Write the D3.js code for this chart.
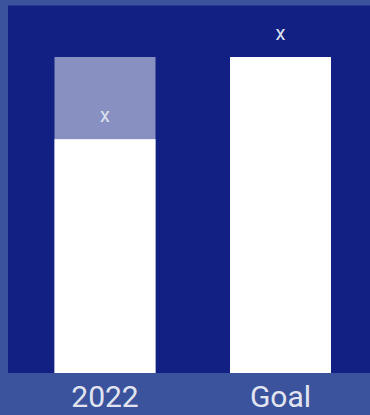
<!DOCTYPE html>
<html>
<head>
<meta charset="utf-8">
<script src="https://cdn.jsdelivr.net/npm/d3@7"></script>
<style>
  html, body { margin: 0; padding: 0; background: #3a539c; }
  svg { display: block; }
</style>
</head>
<body>
<svg id="chart" width="370" height="415"></svg>
<script>
// Categories, values and labels
const categories = ["2022", "Goal"];
const actualValues = [74, 100];   // white bars
const goalValues = [100, 100];    // translucent target portion
const valueLabels = ["x", "x"];

const W = 370, H = 415;
const svg = d3.select("#chart");

// Panel background
svg.append("rect").attr("width", W).attr("height", H).attr("fill", "#3a539c");
svg.append("rect").attr("x", 8).attr("y", 5.5).attr("width", W - 8).attr("height", 373 - 5.5)
  .attr("fill", "#112082");

const x = d3.scaleBand().domain(categories).range([54.5, 331])
  .paddingInner(0.4245).paddingOuter(0);
const y = d3.scaleLinear().domain([0, 100]).range([373, 57]);

// Target (translucent) bars
svg.selectAll("rect.goal").data(categories).join("rect")
  .attr("class", "goal")
  .attr("x", d => x(d))
  .attr("width", x.bandwidth())
  .attr("y", (d, i) => y(goalValues[i]))
  .attr("height", (d, i) => y(0) - y(goalValues[i]))
  .attr("fill", "#ffffff").attr("fill-opacity", 0.5);

// Actual bars
svg.selectAll("rect.actual").data(categories).join("rect")
  .attr("class", "actual")
  .attr("x", d => x(d))
  .attr("width", x.bandwidth())
  .attr("y", (d, i) => y(actualValues[i]))
  .attr("height", (d, i) => y(0) - y(actualValues[i]))
  .attr("fill", "#ffffff");

// Value labels above actual bars
svg.selectAll("text.val").data(categories).join("text")
  .attr("class", "val")
  .attr("x", d => x(d) + x.bandwidth() / 2)
  .attr("y", (d, i) => y(actualValues[i]) - 17)
  .attr("text-anchor", "middle")
  .attr("font-family", "Roboto, sans-serif")
  .attr("font-size", 20)
  .attr("fill", "#dde0ee")
  .text((d, i) => valueLabels[i]);

// Category axis
const axis = svg.append("g").attr("transform", "translate(0,407)")
  .call(d3.axisBottom(x).tickSize(0).tickPadding(0));
axis.select(".domain").remove();
axis.selectAll("text")
  .attr("dy", 0)
  .attr("font-family", "Roboto, sans-serif")
  .attr("font-size", 30)
  .attr("fill", "#e2e5f1");
</script>
</body>
</html>
